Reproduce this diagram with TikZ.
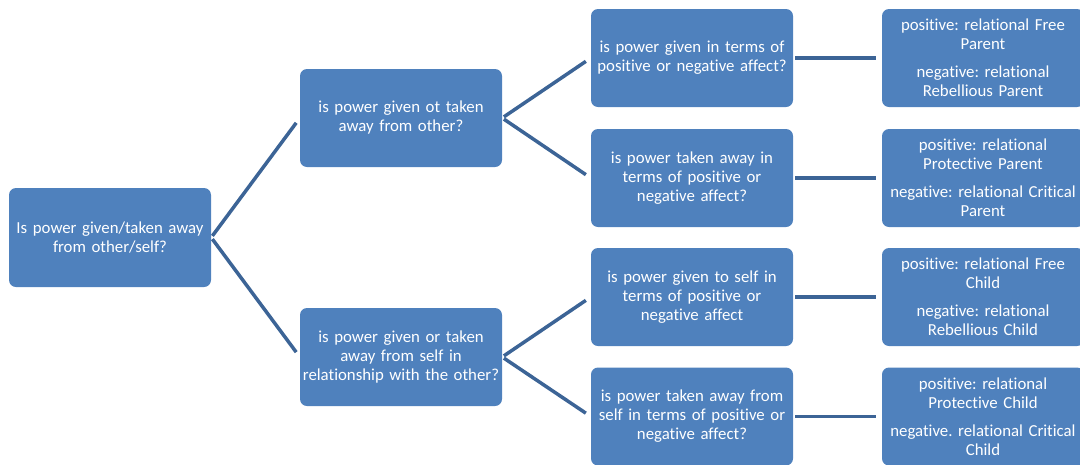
\documentclass[tikz,border=0pt]{standalone}
\usepackage{fontspec}
\setmainfont[Ligatures=NoCommon]{Carlito}
\usetikzlibrary{positioning}
\definecolor{smblue}{RGB}{79,129,189}
\definecolor{smline}{RGB}{60,100,150}
\tikzstyle{qbox} = [rectangle, rounded corners=7pt, minimum width=202pt, minimum height=98pt, text width=200pt, align=center, inner sep=0pt, fill=smblue, text=white, font=\fontsize{16.8}{19}\selectfont\frenchspacing]
\tikzstyle{link} = [line width=3.5pt, color=smline, shorten <=2pt, shorten >=6pt]

\begin{document}
\begin{tikzpicture}[x=1pt, y=-1pt]
\clip (0,0) rectangle (1080,464);
% Root question
\node[qbox, minimum height=99pt] (root) at (110,237.5) {Is power given/taken away\\from other/self?};

% Second level
\node[qbox] (other) at (401,118) {is power given ot taken\\away from other?};
\node[qbox] (self) at (401,357) {is power given or taken\\away from self in\\relationship with the other?};

% Third level
\node[qbox] (othergive) at (692,58) {is power given in terms of\\positive or negative affect?};
\node[qbox] (othertake) at (692,178) {is power taken away in\\terms of positive or\\negative affect?};
\node[qbox] (selfgive) at (692,297) {is power given to self in\\terms of positive or\\negative affect};
\node[qbox] (selftake) at (692,416.5) {is power taken away from\\self in terms of positive or\\negative affect?};

% Outcomes
\node[qbox] (freeparent) at (983,58) {positive: relational Free\\Parent\\[9pt]negative: relational\\Rebellious Parent};
\node[qbox] (critparent) at (983,178) {positive: relational\\Protective Parent\\[9pt]negative: relational Critical\\Parent};
\node[qbox] (freechild) at (983,297) {positive: relational Free\\Child\\[9pt]negative: relational\\Rebellious Child};
\node[qbox] (critchild) at (983,416.5) {positive: relational\\Protective Child\\[9pt]negative. relational Critical\\Child};

\draw[link] (root.east) -- (other.west);
\draw[link] (root.east) -- (self.west);
\draw[link] (other.east) -- (othergive.west);
\draw[link] (other.east) -- (othertake.west);
\draw[link] (self.east) -- (selfgive.west);
\draw[link] (self.east) -- (selftake.west);
\draw[link] (othergive) -- (freeparent);
\draw[link] (othertake) -- (critparent);
\draw[link] (selfgive) -- (freechild);
\draw[link] (selftake) -- (critchild);
\end{tikzpicture}
\end{document}
